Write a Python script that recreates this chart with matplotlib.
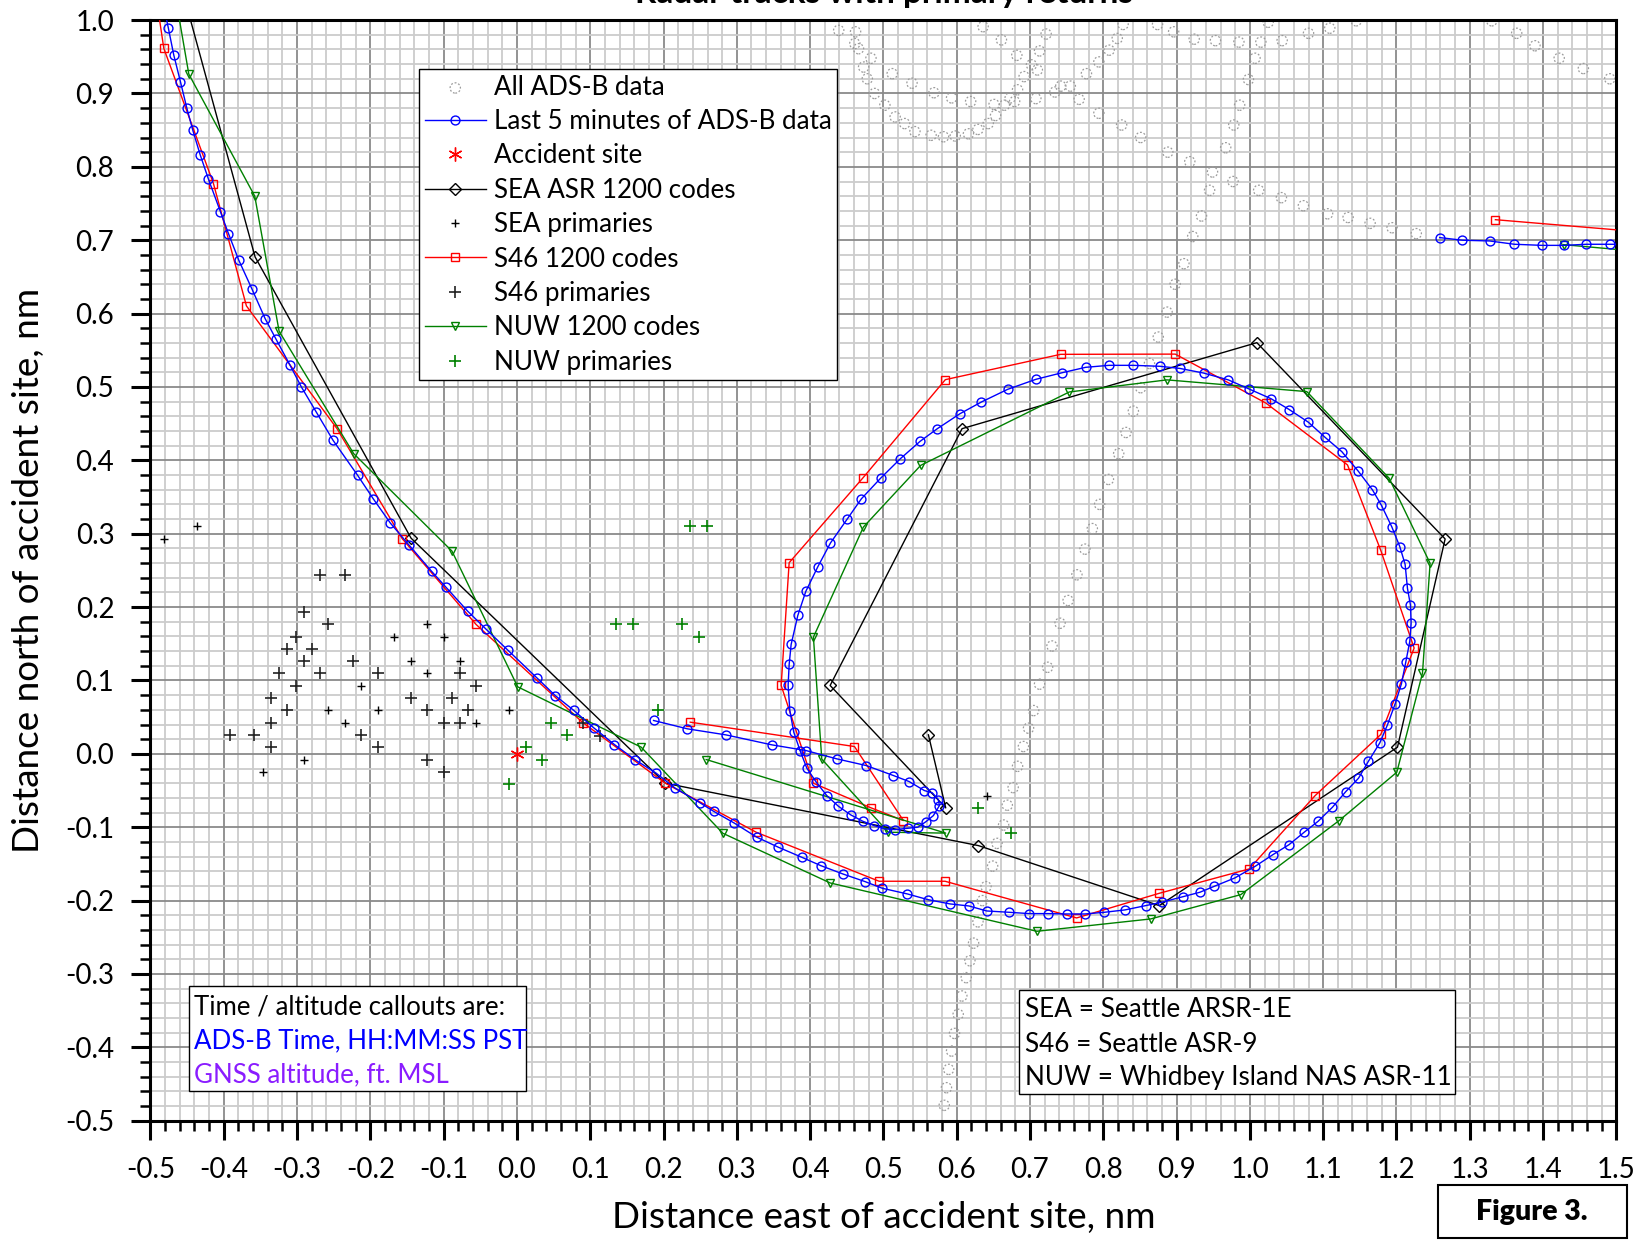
import matplotlib
matplotlib.use('Agg')
import matplotlib.pyplot as plt
from matplotlib.patches import Rectangle
from matplotlib.ticker import MultipleLocator, FormatStrFormatter

plt.rcParams['font.family'] = ['Lato', 'DejaVu Sans']
plt.rcParams['axes.unicode_minus'] = False

# all ADS-B data (gray dotted circles)
ads_x = [0.439, 0.462, 0.461, 0.466, 0.483, 0.473, 0.478, 0.512, 0.488, 0.502, 0.516, 0.529, 0.543, 0.565,
         0.582, 0.598, 0.616, 0.629, 0.643, 0.653, 0.665, 0.679, 0.683, 0.692, 0.702, 0.710, 0.713, 0.722,
         0.682, 0.661, 0.636, 0.539, 0.569, 0.593, 0.619, 0.651, 0.673, 0.708, 0.734, 0.742, 0.755, 0.767,
         0.777, 0.794, 0.808, 0.819, 0.827, 0.794, 0.825, 0.851, 0.888, 0.918, 0.949, 0.977, 1.012, 1.043,
         1.073, 1.106, 1.134, 1.164, 1.194, 1.227, 1.145, 1.109, 1.080, 1.044, 1.015, 0.985, 0.953, 0.924,
         0.896, 0.874, 1.025, 1.007, 0.998, 0.986, 0.978, 0.967, 0.945, 0.934, 0.922, 0.910, 0.898, 0.887,
         0.875, 1.330, 1.364, 1.389, 1.422, 1.455, 1.491,
         0.863, 0.851, 0.841, 0.831, 0.821, 0.807, 0.795, 0.785, 0.775, 0.764, 0.752, 0.741, 0.730, 0.724,
         0.713, 0.705, 0.698, 0.691, 0.683, 0.677, 0.669, 0.664, 0.655, 0.649, 0.640, 0.635, 0.629, 0.623,
         0.618, 0.613, 0.607, 0.602, 0.597, 0.593, 0.589, 0.586, 0.583]
ads_y = [0.986, 0.984, 0.968, 0.961, 0.948, 0.936, 0.920, 0.927, 0.900, 0.884, 0.868, 0.859, 0.848, 0.843,
         0.841, 0.842, 0.845, 0.851, 0.859, 0.870, 0.884, 0.889, 0.905, 0.923, 0.939, 0.932, 0.958, 0.981,
         0.952, 0.973, 0.991, 0.914, 0.901, 0.894, 0.889, 0.885, 0.894, 0.893, 0.902, 0.910, 0.910, 0.892,
         0.927, 0.943, 0.959, 0.975, 0.994, 0.873, 0.857, 0.840, 0.820, 0.807, 0.793, 0.780, 0.768, 0.758,
         0.747, 0.736, 0.731, 0.723, 0.717, 0.709, 0.999, 0.989, 0.982, 0.972, 0.970, 0.970, 0.972, 0.974,
         0.984, 0.994, 0.997, 0.948, 0.919, 0.884, 0.857, 0.826, 0.768, 0.733, 0.705, 0.668, 0.640, 0.602,
         0.568, 0.999, 0.982, 0.965, 0.948, 0.934, 0.920,
         0.532, 0.499, 0.467, 0.438, 0.409, 0.374, 0.340, 0.307, 0.279, 0.244, 0.209, 0.178, 0.147, 0.118,
         0.095, 0.059, 0.035, 0.010, -0.017, -0.046, -0.070, -0.097, -0.122, -0.153, -0.181, -0.200, -0.229,
         -0.258, -0.282, -0.305, -0.330, -0.355, -0.381, -0.405, -0.430, -0.455, -0.479]

# last 5 minutes of ADS-B data
last5_x = [-0.483, -0.4755, -0.4682, -0.4591, -0.4505, -0.4423, -0.4323, -0.4209, -0.4045, -0.3936, -0.3795,
           -0.3618, -0.3436, -0.3291, -0.31, -0.2941, -0.2736, -0.2509, -0.2173, -0.1961,
           -0.1727, -0.1476, -0.1163, -0.097, -0.0673, -0.0417, -0.0125, 0.0276, 0.0522, 0.0772, 0.1054,
           0.133, 0.1607, 0.1894, 0.216,
           0.25, 0.2682, 0.2968, 0.3273, 0.3568, 0.3886, 0.4145, 0.4445, 0.475, 0.4986, 0.5327, 0.5605,
           0.5909, 0.6168, 0.6409, 0.6714, 0.6991, 0.7245, 0.75, 0.775, 0.8014, 0.8295, 0.8582, 0.8795,
           0.9091, 0.9318, 0.9514, 0.9795, 1.0073, 1.0309, 1.0536, 1.0741, 1.0932, 1.1127, 1.1309, 1.1482,
           1.1618, 1.1773, 1.1877, 1.1982, 1.2068, 1.2127, 1.2182, 1.22, 1.2191, 1.215, 1.2118, 1.2045,
           1.1936, 1.1795, 1.1673, 1.1477, 1.1255, 1.1027, 1.0795, 1.0536, 1.0291, 0.9982, 0.9705, 0.9368,
           0.9045, 0.8773,
           0.8409, 0.8077, 0.7759, 0.7441, 0.7082, 0.6695, 0.6336, 0.6045, 0.5736, 0.55, 0.5232, 0.4964,
           0.47, 0.4509, 0.4277, 0.4105, 0.3941, 0.3832, 0.3741, 0.3714, 0.37, 0.3723, 0.3777, 0.3864,
           0.3955, 0.408, 0.4227, 0.4386, 0.4555, 0.4718, 0.4873, 0.5023, 0.5159, 0.5341, 0.5468, 0.5582,
           0.5682, 0.5764, 0.575, 0.5668, 0.5559, 0.535, 0.5136, 0.4764, 0.4364, 0.3945, 0.3477, 0.285,
           0.2327, 0.1864]
last5_y = [1.024, 0.9886, 0.9523, 0.9159, 0.8805, 0.85, 0.8168, 0.7832, 0.7386, 0.7091, 0.6727,
           0.6341, 0.5932, 0.5659, 0.5305, 0.5, 0.4655, 0.4273, 0.3795, 0.3477,
           0.3145, 0.285, 0.2486, 0.2273, 0.1945, 0.1695, 0.1414, 0.1032, 0.0795, 0.0595, 0.035,
           0.0127, -0.0077, -0.0259, -0.0468,
           -0.0668, -0.0782, -0.0945, -0.1136, -0.1273, -0.1409, -0.1523, -0.1636, -0.1741, -0.1832, -0.1909,
           -0.1986, -0.2045, -0.2073, -0.2141, -0.2159, -0.2177, -0.2177, -0.2182, -0.2182, -0.2159, -0.2127,
           -0.2068, -0.2023,
           -0.1945, -0.1886, -0.1805, -0.1691, -0.1532, -0.1377, -0.1236, -0.1068, -0.0918, -0.0727, -0.0514,
           -0.0332, -0.01, 0.015, 0.0395, 0.0682, 0.0955, 0.125, 0.1535, 0.1784, 0.2027, 0.2256, 0.2583,
           0.2826, 0.3095, 0.3387, 0.3597, 0.3855, 0.4118, 0.4313, 0.4522, 0.4693, 0.4839, 0.4976, 0.5097,
           0.519, 0.5253, 0.5282,
           0.5295, 0.5295, 0.5268, 0.5195, 0.5105, 0.4968, 0.4795, 0.4636, 0.4432, 0.4259, 0.4023, 0.3759,
           0.3477, 0.3205, 0.2873, 0.255, 0.2214, 0.1886, 0.1491, 0.1218, 0.0932, 0.0591, 0.0295, 0.0041,
           -0.0195, -0.038, -0.0568, -0.0714, -0.0832, -0.0918, -0.0977, -0.1023, -0.1032, -0.1014, -0.1,
           -0.0923, -0.0841, -0.0705, -0.0623, -0.0532, -0.05, -0.0377, -0.0295, -0.0159, -0.0068, 0.0045,
           0.0123, 0.0259, 0.0341, 0.0455]
last5_east_x = [1.259, 1.290, 1.327, 1.361, 1.399, 1.429, 1.459, 1.492, 1.53]
last5_east_y = [0.7036, 0.700, 0.699, 0.6945, 0.693, 0.693, 0.6945, 0.6945, 0.6945]

# SEA ASR 1200 codes
sea_x = [-0.459, -0.3573, -0.1445, 0.2025, 0.6295, 0.8764, 1.2014, 1.2664, 1.0095, 0.6073, 0.4273, 0.585, 0.5614]
sea_y = [1.05, 0.6773, 0.294, -0.04, -0.125, -0.2068, 0.0091, 0.2929, 0.5604, 0.4432, 0.0932, -0.0736, 0.0259]

# S46 1200 codes
s46_x = [-0.495, -0.4818, -0.4141, -0.3691, -0.2455, -0.1565, -0.0558, 0.0897, 0.2024, 0.3264, 0.4941, 0.5841,
         0.7636, 0.8764, 0.9991, 1.0891, 1.1786, 1.2241, 1.1786, 1.1332, 1.0218, 0.8982, 0.7418, 0.5845,
         0.4723, 0.3714, 0.3605, 0.4045, 0.4832, 0.5273, 0.4605, 0.2364]
s46_y = [1.05, 0.9614, 0.7773, 0.6105, 0.4432, 0.2932, 0.1764, 0.0427, -0.04, -0.1068, -0.1736, -0.1736,
         -0.2236, -0.19, -0.1568, -0.0568, 0.0264, 0.1442, 0.2773, 0.3938, 0.4781, 0.5448, 0.5445, 0.51,
         0.3764, 0.2605, 0.0932, -0.04, -0.0736, -0.0909, 0.01, 0.0432]
s46_east_x = [1.335, 1.55]
s46_east_y = [0.728, 0.710]

# NUW 1200 codes
nuw_x = [-0.469, -0.4477, -0.3577, -0.3245, -0.2227, -0.0887, 0.001, 0.1695, 0.2809, 0.4273, 0.7094, 0.8645,
         0.9877, 1.1218, 1.2005, 1.2355, 1.2459, 1.19, 1.0777, 0.8868, 0.7536, 0.5509, 0.4727, 0.4045,
         0.4159, 0.5068, 0.585, 0.2582]
nuw_y = [1.05, 0.9264, 0.76, 0.5759, 0.4091, 0.2764, 0.0914, 0.0091, -0.1082, -0.1759, -0.2418, -0.225,
         -0.1918, -0.0909, -0.025, 0.11, 0.2597, 0.3757, 0.4937, 0.5097, 0.4932, 0.3932, 0.3091, 0.1591,
         -0.0072, -0.1068, -0.108, -0.0077]
nuw_east_x = [1.428, 1.55]
nuw_east_y = [0.694, 0.683]

# primary returns
sea_prim_x = [-0.4815, -0.4366, -0.1226, -0.1674, -0.1002, -0.145, -0.0772, -0.1226, -0.2123, -0.2572,
              -0.1899, -0.0104, -0.2342, -0.0553, -0.2906, -0.3469, 0.6409]
sea_prim_y = [0.2932, 0.31, 0.1764, 0.1595, 0.1595, 0.1264, 0.1264, 0.11, 0.0927, 0.06,
              0.06, 0.06, 0.0427, 0.0427, -0.0077, -0.0241, -0.0568]
s46_prim_x = [-0.2686, -0.2342, -0.2906, -0.2572, -0.302, -0.3135, -0.2796, -0.2906, -0.2233, -0.325,
              -0.2686, -0.1899, -0.0772, -0.302, -0.0553, -0.3359, -0.145, -0.0887, -0.3135, -0.1226,
              -0.0668, -0.3359, -0.1002, -0.0772, -0.3918, -0.3589, -0.2123, -0.3359, -0.1899, -0.1226,
              -0.1002, 0.0902, 0.1137]
s46_prim_y = [0.2432, 0.2432, 0.1932, 0.1764, 0.1595, 0.1427, 0.1427, 0.1264, 0.1264, 0.11,
              0.11, 0.11, 0.11, 0.0927, 0.0927, 0.0764, 0.0764, 0.0764, 0.06, 0.06,
              0.06, 0.0427, 0.0427, 0.0427, 0.0259, 0.0259, 0.0259, 0.0095, 0.0095, -0.0077,
              -0.0241, 0.0427, 0.025]
nuw_prim_x = [0.2363, 0.2593, 0.1356, 0.1581, 0.2248, 0.2478, 0.192, 0.0459, 0.0678, 0.012, 0.0344, -0.0104,
              0.6295, 0.6741]
nuw_prim_y = [0.31, 0.31, 0.1764, 0.1764, 0.1764, 0.1595, 0.06, 0.0427, 0.0259, 0.0095, -0.0077, -0.0405,
              -0.0741, -0.1077]

accident_x = [0.0]
accident_y = [0.0]

green = '#008000'

fig = plt.figure(figsize=(16.5, 12.41), dpi=100)
ax = fig.add_axes([0.0912, 0.0969, 0.8884, 0.8869])

h_ads = ax.scatter(ads_x, ads_y, s=55, facecolors='none', edgecolors='#9c9c9c', linewidths=0.9,
                   linestyles=(0, (1.5, 1.5)), zorder=2, label='All ADS-B data')
h_last5, = ax.plot(last5_x, last5_y, '-o', color='blue', lw=1.0, ms=6.4, mfc='none', mew=1.0, zorder=4,
                   label='Last 5 minutes of ADS-B data')
ax.plot(last5_east_x, last5_east_y, '-o', color='blue', lw=1.0, ms=6.4, mfc='none', mew=1.0, zorder=4)
h_acc, = ax.plot(accident_x, accident_y, ls='none', marker=(6, 2, 0), color='red', ms=10, mew=1.0,
                 zorder=5, label='Accident site')
h_sea, = ax.plot(sea_x, sea_y, '-D', color='black', lw=1.0, ms=5.8, mfc='none', mew=1.0, zorder=3,
                 label='SEA ASR 1200 codes')
h_seap, = ax.plot(sea_prim_x, sea_prim_y, ls='none', marker='+', color='black', ms=6, mew=1.0, zorder=3,
                  label='SEA primaries')
h_s46, = ax.plot(s46_x, s46_y, '-s', color='red', lw=1.0, ms=5.8, mfc='none', mew=1.0, zorder=3,
                 label='S46 1200 codes')
ax.plot(s46_east_x, s46_east_y, '-s', color='red', lw=1.0, ms=5.8, mfc='none', mew=1.0, zorder=3,
        markevery=[0])
h_s46p, = ax.plot(s46_prim_x, s46_prim_y, ls='none', marker='+', color='#222222', ms=8.5, mew=1.2, zorder=3,
                  label='S46 primaries')
h_nuw, = ax.plot(nuw_x, nuw_y, '-v', color=green, lw=1.0, ms=5.8, mfc='none', mew=1.0, zorder=3,
                 label='NUW 1200 codes')
ax.plot(nuw_east_x, nuw_east_y, '-v', color=green, lw=1.0, ms=5.8, mfc='none', mew=1.0, zorder=3,
        markevery=[0])
h_nuwp, = ax.plot(nuw_prim_x, nuw_prim_y, ls='none', marker='+', color=green, ms=8.5, mew=1.2, zorder=3,
                  label='NUW primaries')

ax.set_xlim(-0.5, 1.5)
ax.set_ylim(-0.5, 1.0)
ax.xaxis.set_major_locator(MultipleLocator(0.1))
ax.xaxis.set_minor_locator(MultipleLocator(0.02))
ax.yaxis.set_major_locator(MultipleLocator(0.1))
ax.yaxis.set_minor_locator(MultipleLocator(0.02))
ax.xaxis.set_major_formatter(FormatStrFormatter('%.1f'))
ax.yaxis.set_major_formatter(FormatStrFormatter('%.1f'))
ax.set_axisbelow(True)
ax.grid(which='minor', color='#cccccc', lw=1.3)
ax.grid(which='major', color='#8a8a8a', lw=1.3)
ax.tick_params(which='major', direction='out', length=14, width=2.2, labelsize=20, pad=12)
ax.tick_params(which='minor', direction='out', length=7, width=1.8)
for sp in ax.spines.values():
    sp.set_linewidth(2.2)

ax.set_xlabel('Distance east of accident site, nm', fontsize=26.6, va='center')
ax.xaxis.set_label_coords(0.5, -0.088)
ax.set_ylabel('Distance north of accident site, nm', fontsize=26.6, va='center')
ax.yaxis.set_label_coords(-0.0833, 0.5)

leg = ax.legend(handles=[h_ads, h_last5, h_acc, h_sea, h_seap, h_s46, h_s46p, h_nuw, h_nuwp],
                loc='upper left', bbox_to_anchor=(0.1832, 0.9555), borderaxespad=0, fontsize=18.7,
                fancybox=False, framealpha=1, edgecolor='black', handlelength=2.35, handletextpad=0.3,
                labelspacing=0.36, borderpad=0.22)
leg.get_frame().set_linewidth(1.0)
leg.set_zorder(10)

# callout note box
ax.add_patch(Rectangle((0.0265, 0.027), 0.2297, 0.0954, transform=ax.transAxes, fc='white', ec='black',
                       lw=1.0, zorder=8))
ax.text(0.0294, 0.1033, 'Time / altitude callouts are:', transform=ax.transAxes, fontsize=18.6,
        color='black', va='center', zorder=9)
ax.text(0.0294, 0.0727, 'ADS-B Time, HH:MM:SS PST', transform=ax.transAxes, fontsize=18.6,
        color='blue', va='center', zorder=9)
ax.text(0.0294, 0.0421, 'GNSS altitude, ft. MSL', transform=ax.transAxes, fontsize=18.6,
        color='#8a1cff', va='center', zorder=9)

# radar key box
ax.add_patch(Rectangle((0.5922, 0.0243), 0.2977, 0.0944, transform=ax.transAxes, fc='white', ec='black',
                       lw=1.0, zorder=8))
ax.text(0.5965, 0.1015, 'SEA = Seattle ARSR-1E', transform=ax.transAxes, fontsize=18.8, va='center', zorder=9)
ax.text(0.5965, 0.0697, 'S46 = Seattle ASR-9', transform=ax.transAxes, fontsize=18.8, va='center', zorder=9)
ax.text(0.5965, 0.0392, 'NUW = Whidbey Island NAS ASR-11', transform=ax.transAxes, fontsize=18.8,
        va='center', zorder=9)

fig.text(0.536, 0.9976, 'Radar tracks with primary returns', ha='center', va='baseline', fontsize=24,
         fontweight='bold')
fig.patches.append(Rectangle((1437.5 / 1650, 1 - 1237.5 / 1241), 189.5 / 1650, 52.5 / 1241,
                             transform=fig.transFigure, fc='white', ec='black', lw=1.5))
fig.text(1532 / 1650, 1 - 1212 / 1241, 'Figure 3.', ha='center', va='center', fontsize=20.5,
         fontweight='heavy')

fig.savefig('out.png', dpi=100)
